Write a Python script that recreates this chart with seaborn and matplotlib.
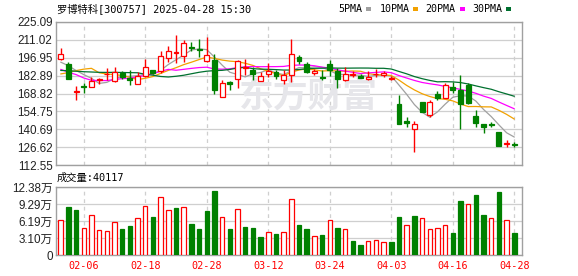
import numpy as np
import pandas as pd
import matplotlib
matplotlib.use("Agg")
import matplotlib.pyplot as plt
from matplotlib.patches import Rectangle
import seaborn as sns

# ---------------- data ----------------
dates = ["01-24", "01-27",
         "02-05", "02-06", "02-07", "02-10", "02-11", "02-12", "02-13", "02-14",
         "02-17", "02-18", "02-19", "02-20", "02-21", "02-24", "02-25", "02-26",
         "02-27", "02-28",
         "03-03", "03-04", "03-05", "03-06", "03-07", "03-10", "03-11", "03-12",
         "03-13", "03-14", "03-17", "03-18", "03-19", "03-20", "03-21", "03-24",
         "03-25", "03-26", "03-27", "03-28", "03-31",
         "04-01", "04-02", "04-03", "04-07", "04-08", "04-09", "04-10", "04-11",
         "04-14", "04-15", "04-16", "04-17", "04-18", "04-21", "04-22", "04-23",
         "04-24", "04-25", "04-28"]

open_ = [195.7, 192.1, 170.2, 174.6, 174.2, 179.2, 183.8, 178.5, 184.8, 181.2,
         176.5, 182.9, 187.0, 186.3, 196.8, 200.6, 198.5, 205.8, 203.5, 194.7,
         195.5, 166.0, 177.5, 180.4, 188.8, 187.5, 178.5, 184.3, 185.5, 179.6,
         183.5, 197.8, 192.3, 184.8, 181.8, 192.0, 186.5, 179.1, 183.6, 182.5,
         180.0, 183.8, 183.6, 180.3, 160.4, 147.3, 140.6, 161.9, 152.0, 168.7,
         165.6, 173.9, 171.3, 175.5, 151.5, 144.8, 145.0, 138.3, 129.3, 129.2]
high = [204.6, 193.8, 175.0, 177.0, 182.0, 181.4, 189.0, 189.8, 186.5, 187.5,
        185.5, 196.0, 187.5, 202.4, 206.3, 214.5, 211.0, 209.0, 211.5, 213.0,
        200.0, 179.5, 179.0, 195.5, 196.0, 189.5, 185.5, 192.5, 187.0, 187.5,
        211.5, 199.3, 193.5, 188.0, 187.0, 195.0, 188.5, 189.4, 186.5, 184.0,
        186.5, 188.0, 186.5, 182.5, 168.0, 150.0, 146.8, 162.5, 163.5, 171.0,
        177.0, 177.5, 183.0, 177.0, 155.5, 145.0, 146.5, 138.5, 132.3, 130.5]
low = [195.2, 180.0, 163.8, 169.0, 174.0, 176.5, 179.1, 177.5, 180.0, 175.5,
       176.0, 181.7, 184.5, 185.0, 193.3, 192.5, 193.3, 202.5, 197.5, 194.0,
       168.7, 165.8, 171.5, 173.5, 183.0, 179.5, 178.3, 181.6, 180.0, 176.5,
       177.5, 192.0, 184.7, 183.0, 179.5, 182.5, 173.0, 178.8, 181.5, 180.8,
       179.3, 181.8, 181.6, 179.5, 144.5, 142.2, 122.7, 154.0, 150.0, 164.0,
       165.0, 169.5, 140.5, 160.5, 142.8, 138.0, 142.3, 127.5, 126.6, 126.6]
close = [199.9, 180.4, 170.6, 173.9, 178.9, 180.0, 184.5, 185.5, 182.0, 179.8,
         182.5, 190.0, 184.8, 198.5, 202.4, 201.2, 208.6, 204.6, 202.8, 199.5,
         171.8, 177.0, 176.5, 194.1, 190.0, 184.3, 182.2, 186.3, 182.5, 183.0,
         200.0, 194.1, 185.5, 186.5, 180.8, 187.0, 180.0, 184.3, 184.1, 181.0,
         181.8, 184.5, 184.8, 181.3, 144.8, 145.3, 144.5, 154.5, 162.0, 165.3,
         175.7, 171.8, 160.5, 161.0, 145.3, 142.7, 143.8, 127.7, 130.0, 128.5]
volume = [64000, 87800, 82300, 49400, 73200, 45700, 43900, 59800, 47600, 53100,
          67700, 89700, 68300, 105500, 81700, 86000, 87200, 56700, 47600, 80500,
          117100, 68900, 47600, 84200, 51200, 49400, 32900, 41500, 38400, 41500,
          102500, 54900, 47600, 34800, 36600, 63400, 49400, 47000, 25600, 18300,
          25000, 26800, 23200, 23800, 69500, 54900, 71400, 67100, 47600, 49400,
          54300, 40300, 98800, 92700, 109800, 73200, 67700, 115300, 63400, 40117]
# closes before the visible window (read back from where the MA lines start)
prior_close = [186, 184, 185, 186, 188, 186, 184, 185, 184, 185,
               226.4, 206.6, 227.9, 214.9, 184, 184.5, 169.5, 168, 173.8, 158.5,
               170, 154.8, 162.5, 172.4, 215, 194.4, 189.6, 189.9, 193.7]

price_ticks = [112.55, 126.62, 140.69, 154.75, 168.82, 182.89, 196.95, 211.02, 225.09]
vol_ticks = [0, 30950, 61900, 92850, 123800]
vol_tick_labels = ["0", "3.10万", "6.19万", "9.29万", "12.38万"]
date_labels = ["02-06", "02-18", "02-28", "03-12", "03-24", "04-03", "04-16", "04-28"]
ma_windows = [5, 10, 20, 30]
ma_names = ["5PMA", "10PMA", "20PMA", "30PMA"]
ma_colors = ["#a0a0a0", "#f2a100", "#ff00ff", "#00702f"]
title = "罗博特科[300757] 2025-04-28 15:30"
vol_title = "成交量:40117"

# ---------------- style ----------------
sns.set_style("white")
plt.rcParams["font.family"] = ["Liberation Sans", "Noto Sans CJK SC"]

RED = "#ff0000"
GREEN = "#008000"
GRID = "#cfcfcf"
SPINE = "#a0a0a0"
LBL = "#222222"
MONO = ["DejaVu Sans Mono", "Noto Sans CJK SC"]

W, H = 578, 276
fig = plt.figure(figsize=(W / 100, H / 100), dpi=100)
fig.patch.set_facecolor("white")

ax = fig.add_axes([56 / W, 1 - 165 / H, 466 / W, 143 / H])
axv = fig.add_axes([56 / W, 1 - 255 / H, 466 / W, 68 / H])

n = len(close)
idx = np.arange(n)
o = np.array(open_); c = np.array(close); h = np.array(high); l = np.array(low)
up = c >= o
date_pos = [dates.index(d) for d in date_labels]

df = pd.DataFrame({"i": idx, "open": o, "high": h, "low": l, "close": c,
                   "volume": volume})
full_close = pd.Series(list(prior_close) + list(close))
for w, name in zip(ma_windows, ma_names):
    df[name] = full_close.rolling(w).mean().to_numpy()[-n:]

# ---------------- price panel ----------------
# watermark
ax.text(308 / W, 1 - 96 / H, "东方财富", transform=fig.transFigure,
        ha="center", va="center", fontsize=25, fontweight="bold",
        color="#e6e6ea", family=["Noto Sans CJK SC"], zorder=0.6)

for name, col in zip(ma_names, ma_colors):
    sns.lineplot(data=df, x="i", y=name, ax=ax, color=col, linewidth=0.9,
                 legend=False, zorder=2)

for i in range(n):
    col = RED if up[i] else GREEN
    ax.vlines(i, l[i], h[i], color=col, linewidth=1.0, zorder=3)
    bot = min(o[i], c[i])
    ht = max(abs(c[i] - o[i]), 0.35)
    ax.bar(i, ht, bottom=bot, width=0.64,
           facecolor="white" if up[i] else GREEN,
           edgecolor=col, linewidth=0.9, zorder=4)

ax.set_xlim(-0.61, 60.0)
ax.set_ylim(price_ticks[0], price_ticks[-1])
ax.set_yticks(price_ticks)
ax.set_yticklabels([f"{t:.2f}" for t in price_ticks])
ax.set_xticks(date_pos)
ax.set_xticklabels([])
ax.set_xlabel("")
ax.set_ylabel("")
ax.tick_params(axis="both", length=0, pad=2.5, labelsize=8.4, labelcolor=LBL)
ax.set_axisbelow(True)
ax.grid(axis="y", color=GRID, linewidth=0.9, linestyle="-")
ax.grid(axis="x", color=GRID, linewidth=0.9, linestyle=(0, (3, 3)))
for s in ax.spines.values():
    s.set_color(SPINE)
    s.set_linewidth(1.0)

# ---------------- volume panel ----------------
vol_up = np.r_[c[0] >= prior_close[-1], c[1:] >= c[:-1]]
sns.barplot(data=df, x="i", y="volume", ax=axv, color="white", width=0.58,
            errorbar=None, zorder=3)
for p, u in zip(axv.patches, vol_up):
    p.set_facecolor("white" if u else GREEN)
    p.set_edgecolor(RED if u else GREEN)
    p.set_linewidth(0.9)

axv.set_xlim(-0.61, 60.0)
axv.set_ylim(vol_ticks[0], vol_ticks[-1])
axv.set_yticks(vol_ticks)
axv.set_yticklabels(vol_tick_labels)
axv.set_xticks(date_pos)
axv.set_xticklabels(date_labels, family=MONO, fontsize=7.3, color=RED)
axv.set_xlabel("")
axv.set_ylabel("")
axv.tick_params(axis="both", length=0, labelsize=8.4, labelcolor=LBL)
axv.tick_params(axis="x", pad=4, labelcolor=RED, labelsize=7.3)
axv.tick_params(axis="y", pad=2.5)
axv.set_axisbelow(True)
axv.grid(axis="y", color=GRID, linewidth=0.9, linestyle="-")
axv.grid(axis="x", color=GRID, linewidth=0.9, linestyle=(0, (3, 3)))
for s in axv.spines.values():
    s.set_color(SPINE)
    s.set_linewidth(1.0)

# ---------------- texts ----------------
fig.text(57 / W, 1 - 9 / H, title, ha="left", va="center", fontsize=7.4,
         family=MONO, color="black")
fig.text(57 / W, 1 - 178 / H, vol_title, ha="left", va="center", fontsize=7.4,
         family=MONO, color="black")

# legend
leg_text_x = [338, 380, 425, 472]
leg_box_x = [366, 413, 460, 506]
for name, col, tx, bx in zip(ma_names, ma_colors, leg_text_x, leg_box_x):
    fig.text(tx / W, 1 - 9 / H, name, ha="left", va="center", fontsize=7.2,
             family=MONO, color="black")
    fig.patches.append(Rectangle((bx / W, 1 - 11 / H), 5 / W, 4 / H,
                                 transform=fig.transFigure, facecolor=col,
                                 edgecolor="none"))

fig.savefig("out.png", dpi=100, facecolor="white")
